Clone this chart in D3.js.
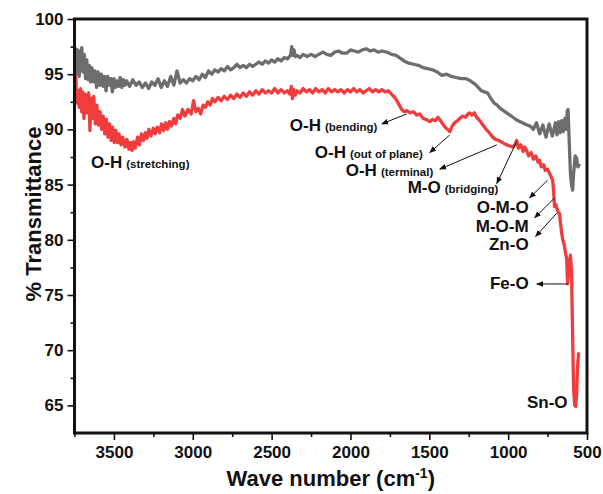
<!DOCTYPE html>
<meta charset="utf-8">
<style>
  body { margin: 0; background: #fff; }
  text { font-family: "Liberation Sans", Arial, sans-serif; font-weight: bold; fill: #111; }
</style>
<body>
<svg width="603" height="494"></svg>
<script src="https://cdn.jsdelivr.net/npm/d3@7"></script>
<script>
// [wavenumber cm-1, transmittance %]
const graySpectrum = [[3748,95.8],[3742,97.3],[3735,95.0],[3728,97.2],[3720,94.8],[3712,96.4],[3704,97.4],[3696,95.2],[3688,96.8],[3680,94.6],[3672,96.3],[3664,94.5],[3656,95.8],[3648,94.3],[3640,95.6],[3630,94.3],[3620,95.3],[3610,93.8],[3600,95.2],[3590,94.0],[3580,95.0],[3570,93.9],[3560,94.8],[3550,93.5],[3540,94.8],[3530,94.0],[3520,94.6],[3510,93.4],[3500,94.6],[3490,93.8],[3480,94.4],[3470,93.9],[3460,94.7],[3450,93.8],[3440,94.5],[3430,94.0],[3420,94.4],[3400,93.9],[3380,94.5],[3360,94.0],[3340,94.3],[3320,93.8],[3300,94.2],[3280,93.7],[3260,94.3],[3240,94.0],[3220,94.6],[3200,93.8],[3180,94.4],[3160,93.9],[3140,94.8],[3120,94.0],[3100,95.3],[3080,94.2],[3060,94.5],[3040,94.2],[3020,94.6],[3000,94.4],[2980,94.8],[2960,94.5],[2940,95.0],[2920,94.7],[2900,95.3],[2880,95.0],[2860,95.4],[2840,95.2],[2820,95.5],[2800,95.3],[2780,95.7],[2760,95.4],[2740,95.6],[2720,95.9],[2700,95.6],[2680,95.8],[2660,95.6],[2640,95.9],[2620,95.7],[2600,95.9],[2580,96.1],[2560,95.9],[2540,96.2],[2520,96.0],[2500,96.3],[2480,96.1],[2460,96.4],[2440,96.2],[2420,96.5],[2400,96.4],[2380,96.7],[2372,97.5],[2366,96.7],[2358,97.2],[2350,96.6],[2340,96.7],[2320,96.5],[2300,96.8],[2275,96.6],[2250,96.8],[2225,96.6],[2200,96.8],[2175,97.0],[2150,96.8],[2125,96.7],[2100,97.0],[2075,97.1],[2050,96.9],[2025,96.9],[2000,97.2],[1975,97.1],[1950,97.0],[1925,97.2],[1900,97.3],[1875,97.1],[1850,97.2],[1825,97.0],[1800,97.1],[1770,97.0],[1740,96.8],[1710,96.7],[1690,96.5],[1660,96.2],[1630,96.0],[1600,95.9],[1570,95.8],[1540,95.6],[1510,95.5],[1480,95.4],[1450,95.2],[1420,94.9],[1390,95.0],[1360,94.8],[1330,94.7],[1300,94.6],[1270,94.6],[1240,94.4],[1210,94.1],[1190,93.8],[1170,93.5],[1150,93.4],[1130,93.3],[1110,92.8],[1090,92.4],[1070,92.2],[1050,91.9],[1030,91.7],[1000,91.4],[970,91.1],[940,90.8],[910,90.6],[880,90.4],[860,90.3],[840,90.0],[820,90.6],[800,89.6],[780,90.4],[760,89.3],[740,90.5],[720,89.4],[700,90.6],[690,89.5],[680,90.7],[670,89.7],[660,90.8],[650,89.8],[640,91.0],[630,90.0],[625,91.7],[620,91.8],[613,89.0],[605,86.0],[598,85.0],[591,84.5],[585,86.0],[575,87.6],[566,87.4],[558,86.6],[547,86.9]];

const redSpectrum = [[3748,92.5],[3742,94.8],[3735,92.4],[3728,93.5],[3720,92.0],[3712,93.7],[3705,91.6],[3698,93.4],[3690,91.0],[3682,93.2],[3672,91.5],[3660,93.3],[3652,89.9],[3645,92.8],[3636,91.0],[3628,93.0],[3618,90.5],[3608,92.2],[3598,90.4],[3588,91.6],[3578,90.0],[3568,91.2],[3558,89.6],[3548,90.9],[3538,89.3],[3528,90.5],[3518,89.0],[3508,90.2],[3498,88.8],[3488,89.9],[3478,88.8],[3468,89.6],[3455,88.6],[3445,89.3],[3430,88.4],[3418,89.1],[3405,88.2],[3395,88.8],[3385,88.1],[3375,88.9],[3365,88.3],[3350,89.3],[3338,88.6],[3325,89.6],[3312,89.0],[3300,89.7],[3290,89.2],[3278,90.0],[3265,89.4],[3250,90.1],[3238,89.6],[3225,90.2],[3210,89.7],[3198,90.5],[3185,89.9],[3172,90.6],[3160,90.0],[3148,90.7],[3135,90.3],[3120,91.0],[3108,90.5],[3095,91.3],[3080,91.0],[3065,91.8],[3050,91.2],[3030,91.8],[3010,91.4],[2995,92.6],[2980,91.6],[2965,91.9],[2950,91.4],[2935,92.2],[2920,92.0],[2905,92.5],[2890,92.2],[2875,92.8],[2860,92.5],[2840,92.9],[2820,92.6],[2800,93.0],[2780,92.7],[2760,93.1],[2740,92.8],[2720,93.2],[2700,92.9],[2680,93.3],[2660,93.0],[2640,93.4],[2620,93.1],[2600,93.5],[2580,93.2],[2560,93.6],[2540,93.3],[2520,93.5],[2500,93.3],[2480,93.7],[2460,93.3],[2440,93.6],[2420,93.3],[2400,93.5],[2385,93.2],[2375,93.9],[2368,92.8],[2360,93.6],[2350,93.1],[2340,93.5],[2320,93.3],[2300,93.7],[2280,93.4],[2260,93.6],[2240,93.3],[2220,93.7],[2200,93.4],[2180,93.6],[2160,93.3],[2140,93.7],[2120,93.4],[2100,93.6],[2080,93.4],[2060,93.6],[2040,93.3],[2020,93.6],[2000,93.4],[1980,93.7],[1960,93.4],[1940,93.6],[1920,93.3],[1900,93.5],[1880,93.7],[1860,93.4],[1840,93.6],[1820,93.4],[1800,93.6],[1780,93.4],[1760,93.5],[1740,93.2],[1720,92.9],[1706,92.6],[1690,92.2],[1675,91.8],[1660,91.6],[1640,91.7],[1624,91.5],[1600,91.6],[1580,91.3],[1560,91.4],[1540,91.0],[1520,90.9],[1497,90.7],[1480,90.9],[1460,90.8],[1445,91.1],[1434,90.9],[1415,90.5],[1400,90.2],[1385,90.0],[1370,89.8],[1355,90.3],[1340,90.6],[1320,90.8],[1307,91.0],[1290,91.2],[1270,91.1],[1255,91.4],[1244,91.5],[1230,91.3],[1215,91.5],[1200,91.1],[1180,90.8],[1160,90.4],[1140,90.0],[1120,89.7],[1098,89.3],[1080,89.1],[1060,89.0],[1035,88.8],[1010,88.6],[990,88.5],[971,88.4],[958,88.6],[946,89.0],[935,88.3],[920,88.6],[905,88.0],[895,88.4],[883,88.1],[870,87.6],[855,87.9],[840,87.3],[825,87.6],[810,87.0],[800,87.2],[790,86.6],[775,86.8],[765,86.3],[750,86.4],[737,86.0],[727,85.7],[718,85.4],[712,84.5],[706,83.0],[698,83.2],[690,82.8],[680,82.4],[674,82.4],[668,81.5],[660,80.6],[654,80.0],[645,79.6],[636,78.8],[629,78.3],[623,76.0],[614,77.5],[605,78.6],[598,77.0],[592,72.0],[585,66.5],[578,65.0],[572,64.9],[566,66.0],[560,68.5],[553,69.8]];

const xTicks = [3500, 3000, 2500, 2000, 1500, 1000, 500];
const xMinor = [3750, 3250, 2750, 2250, 1750, 1250, 750];
const yTicks = [65, 70, 75, 80, 85, 90, 95, 100];
const yMinor = [67.5, 72.5, 77.5, 82.5, 87.5, 92.5, 97.5];

// band labels: main text, small text, label anchor [wn, T], arrow [from wn,T, to wn,T]
const bandMain = ["O-H", "O-H", "O-H", "O-H", "M-O", "O-M-O", "M-O-M", "Zn-O", "Fe-O", "Sn-O"];
const bandSub  = ["(stretching)", "(bending)", "(out of plane)", "(terminal)", "(bridging)", "", "", "", "", ""];
const bandLabel = [[3645, 86.5], [2385, 89.9], [2226, 87.4], [2030, 85.8], [1637, 84.2], [870, 82.4], [870, 80.7], [870, 79.1], [870, 75.5], [623, 64.8]];
const bandArrow = [null, [1643, 91.4, 1801, 90.5], [1370, 89.5, 1497, 87.9], [1072, 88.6, 1434, 86.4], [946, 88.9, 1072, 85.1], [750, 85.4, 864, 83.8], [705, 83.8, 832, 82.0], [693, 82.4, 826, 80.3], [623, 76.0, 819, 76.0], null];

const svg = d3.select("svg");
const pl = 74.5, pr = 587, pt = 19, pb = 433;

const x = d3.scaleLinear().domain([3750, 500]).range([pl, pr]);
const y = d3.scaleLinear().domain([62.5, 100]).range([pb, pt]);

const defs = svg.append("defs");
defs.append("clipPath").attr("id", "clip")
  .append("rect").attr("x", pl).attr("y", pt).attr("width", pr - pl).attr("height", pb - pt);

defs.append("marker")
  .attr("id", "head").attr("viewBox", "0 0 10 10").attr("refX", 9).attr("refY", 5)
  .attr("markerWidth", 7).attr("markerHeight", 7).attr("orient", "auto")
  .append("path").attr("d", "M0,1 L10,5 L0,9 Z").attr("fill", "#111");

const line = d3.line().x(d => x(d[0])).y(d => y(d[1]));

svg.append("path")
  .datum(graySpectrum)
  .attr("clip-path", "url(#clip)")
  .attr("fill", "none").attr("stroke", "#6d6d6d").attr("stroke-width", 3.3).attr("stroke-linejoin", "round")
  .attr("d", line);

svg.append("path")
  .datum(redSpectrum)
  .attr("clip-path", "url(#clip)")
  .attr("fill", "none").attr("stroke", "#f03c3c").attr("stroke-width", 3.3).attr("stroke-linejoin", "round")
  .attr("d", line);

// axes
svg.append("g").attr("transform", `translate(0,${pb})`)
  .call(d3.axisBottom(x).tickValues(xTicks).tickSize(7).tickPadding(6).tickFormat(d3.format("d")));
svg.append("g").attr("transform", `translate(0,${pb})`)
  .call(d3.axisBottom(x).tickValues(xMinor).tickSize(4).tickFormat(""));

svg.append("g").attr("transform", `translate(${pl},0)`)
  .call(d3.axisLeft(y).tickValues(yTicks).tickSize(7).tickPadding(4));
svg.append("g").attr("transform", `translate(${pl},0)`)
  .call(d3.axisLeft(y).tickValues(yMinor).tickSize(4).tickFormat(""));

svg.selectAll(".domain").remove();
svg.selectAll(".tick line").attr("stroke", "#111").attr("stroke-width", 1.6);
svg.selectAll(".tick text").style("font-size", "17px").style("font-family", "'Liberation Sans', Arial, sans-serif").style("font-weight", "bold").attr("fill", "#111");

svg.append("rect")
  .attr("x", pl).attr("y", pt).attr("width", pr - pl).attr("height", pb - pt)
  .attr("fill", "none").attr("stroke", "#111").attr("stroke-width", 3);

// titles
svg.append("text")
  .attr("transform", `translate(41,${(pt + pb) / 2 - 12}) rotate(-90)`)
  .attr("text-anchor", "middle").style("font-size", "22px")
  .text("% Transmittance");

const xt = svg.append("text")
  .attr("x", (pl + pr) / 2).attr("y", 486)
  .attr("text-anchor", "middle").style("font-size", "22px");
xt.append("tspan").text("Wave number (cm");
xt.append("tspan").attr("dy", -8).style("font-size", "14px").text("-1");
xt.append("tspan").attr("dy", 8).text(")");

// band annotations
bandMain.forEach((m, i) => {
  const [lw, lt] = bandLabel[i];
  const t = svg.append("text")
    .attr("x", x(lw)).attr("y", y(lt))
    .attr("text-anchor", bandSub[i] ? "start" : "end")
    .style("font-size", "17px");
  t.append("tspan").text(m);
  if (bandSub[i]) t.append("tspan").attr("dx", 4).style("font-size", "11.5px").text(bandSub[i]);

  const a = bandArrow[i];
  if (a) {
    svg.append("line")
      .attr("x1", x(a[0])).attr("y1", y(a[1]))
      .attr("x2", x(a[2])).attr("y2", y(a[3]))
      .attr("stroke", "#111").attr("stroke-width", 1)
      .attr("marker-end", "url(#head)");
  }
});
</script>
</body>
